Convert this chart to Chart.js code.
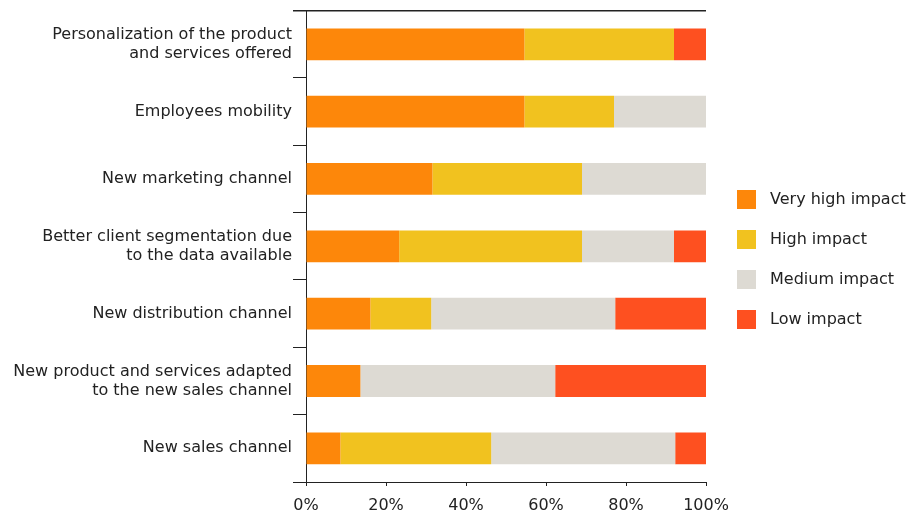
<!DOCTYPE html>
<html>
<head>
<meta charset="utf-8">
<script src="https://cdn.jsdelivr.net/npm/chart.js@4"></script>
<style>
  body { margin: 0; background: #fff; }
  #wrap { width: 916px; height: 512px; }
</style>
</head>
<body>
<div id="wrap"><canvas id="impactChart" width="916" height="512"></canvas></div>
<script>
const categories = [
  ["Personalization of the product", "and services offered"],
  "Employees mobility",
  "New marketing channel",
  ["Better client segmentation due", "to the data available"],
  "New distribution channel",
  ["New product and services adapted", "to the new sales channel"],
  "New sales channel"
];

const veryHigh = [54.6, 54.6, 31.6, 23.3, 16.1, 13.6, 8.6];
const high     = [37.4, 22.4, 37.4, 45.7, 15.2, 0, 37.7];
const medium   = [0, 23.0, 31.0, 23.0, 46.0, 48.7, 46.0];
const low      = [8.0, 0, 0, 8.0, 22.7, 37.7, 7.7];

const seriesNames = ["Very high impact", "High impact", "Medium impact", "Low impact"];
const seriesColors = ["#FD870A", "#F1C21F", "#DDDAD3", "#FE5020"];
const xTicks = [0, 20, 40, 60, 80, 100];

const FONT = "'DejaVu Sans', Verdana, sans-serif";
const INK = "#222";

// rule closing the plot area on top, plus the side legend
const frameAndLegend = {
  id: "frameAndLegend",
  afterDraw(chart) {
    const ctx = chart.ctx;
    const area = chart.chartArea;
    const yScale = chart.scales.y;

    ctx.save();
    ctx.fillStyle = INK;
    ctx.fillRect(yScale.right - 13, Math.round(area.top) - 1, area.right - yScale.right + 13, 1.5);

    const x0 = area.right + 31;
    const top = 190;
    const step = 40;
    ctx.font = "16px " + FONT;
    ctx.textBaseline = "middle";
    ctx.textAlign = "left";
    chart.data.datasets.forEach(function (ds, i) {
      const y = top + i * step;
      ctx.fillStyle = ds.backgroundColor;
      ctx.fillRect(x0, y, 19, 19);
      ctx.fillStyle = INK;
      ctx.fillText(ds.label, x0 + 33, y + 10);
    });
    ctx.restore();
  }
};

const seriesValues = [veryHigh, high, medium, low];

const chart = new Chart(document.getElementById("impactChart"), {
  type: "bar",
  data: {
    labels: categories,
    datasets: seriesNames.map(function (name, i) {
      return {
        label: name,
        data: seriesValues[i],
        backgroundColor: seriesColors[i],
        borderWidth: 0,
        categoryPercentage: 0.8,
        barPercentage: 0.59
      };
    })
  },
  options: {
    indexAxis: "y",
    responsive: false,
    animation: false,
    layout: { padding: { top: 10, right: 210, left: 0, bottom: 0 } },
    plugins: {
      legend: { display: false },
      tooltip: { enabled: false }
    },
    scales: {
      x: {
        stacked: true,
        min: 0,
        max: 100,
        afterFit: function (scale) { scale.height = 30; },
        afterBuildTicks: function (scale) {
          scale.ticks = xTicks.map(function (v) { return { value: v }; });
        },
        border: { color: INK, width: 1 },
        grid: {
          drawOnChartArea: false,
          tickLength: 4,
          tickColor: INK
        },
        ticks: {
          padding: 10,
          color: INK,
          font: { family: FONT, size: 16 },
          callback: function (v) { return v + "%"; }
        }
      },
      y: {
        stacked: true,
        afterFit: function (scale) { scale.width = 306; },
        border: { color: INK, width: 1 },
        grid: {
          offset: true,
          drawOnChartArea: false,
          tickLength: 13,
          tickColor: INK
        },
        ticks: {
          padding: 1,
          color: INK,
          font: { family: FONT, size: 16 }
        }
      }
    }
  },
  plugins: [frameAndLegend]
});
</script>
</body>
</html>
